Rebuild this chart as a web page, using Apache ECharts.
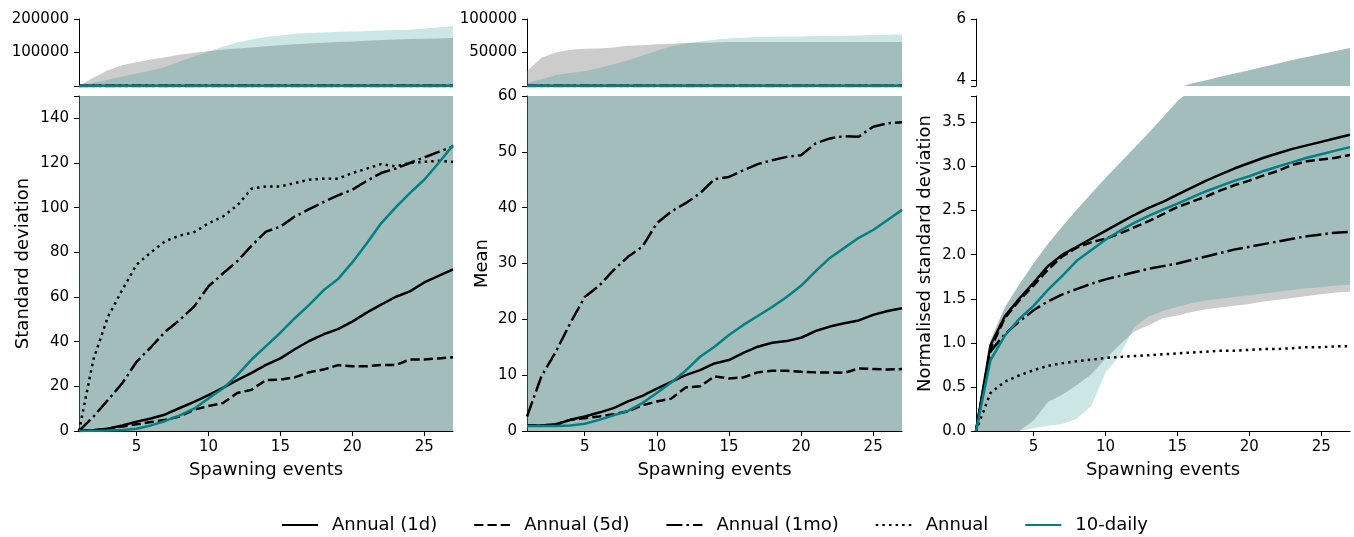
<!DOCTYPE html>
<html>
<head>
<meta charset="utf-8">
<title>Spawning events</title>
<script src="https://cdn.jsdelivr.net/npm/echarts@6/dist/echarts.min.js"></script>
<style>
    html, body { margin: 0; padding: 0; background: #fff; }
    #chart { width: 1354px; height: 537px; }
</style>
</head>
<body>
<div id="chart"></div>
<script>
// 横轴：产卵次数
var events = [1, 2, 3, 4, 5, 6, 7, 8, 9, 10, 11, 12, 13, 14, 15, 16, 17, 18, 19, 20, 21, 22, 23, 24, 25, 26, 27];
var xTicks = [5, 10, 15, 20, 25];
var names = ['Annual (1d)', 'Annual (5d)', 'Annual (1mo)', 'Annual', '10-daily'];

// 标准差
var sd1d = [0, 0.3, 1, 2.5, 4.2, 5.6, 7.4, 10.3, 13, 16.1, 19.3, 22.8, 26, 29.6, 32.5, 36.6, 40.3, 43.3, 45.6, 49, 53, 56.6, 60, 62.5, 66.5, 69.5, 72.4];
var sd5d = [0, 0.3, 1, 2, 3, 4, 5, 6.5, 9.5, 11.2, 12.5, 17, 18.5, 22.8, 23, 24, 26.3, 27.5, 29.5, 29, 29, 29.5, 29.5, 32, 32, 32.5, 33];
var sd1mo = [0, 6.4, 13.8, 21.3, 31, 37.5, 44.5, 49.7, 55.7, 64.8, 70.5, 76, 83, 89.3, 91.5, 96, 99.3, 102.5, 105.5, 108, 112, 115.5, 117.5, 120, 122.5, 125, 127.3];
var sdAnnual = [0, 32, 51, 63, 74.5, 80, 85, 87.5, 89, 93, 96, 101, 108.5, 109.5, 109.5, 111, 112.5, 113, 113, 115.5, 117.5, 119.5, 118.5, 120, 120.5, 121, 120.5];
var sd10d = [0, 0, 0.2, 0.5, 1, 2.5, 4.5, 7, 10, 14.6, 19, 25, 32, 38, 44, 50.5, 56.5, 63, 68, 75.5, 84, 93, 100, 106.5, 112.5, 120, 128];
var sdGreyHigh = [0, 25000, 47000, 62000, 71000, 79000, 86000, 93000, 99000, 104000, 109000, 112000, 115000, 119000, 122000, 125000, 127000, 129000, 131000, 133000, 135000, 137000, 139000, 140000, 141000, 142000, 143000];
var sdTealHigh = [0, 10000, 19000, 28000, 37000, 46000, 57000, 73000, 88000, 103000, 117000, 130000, 139000, 146000, 151000, 156000, 158000, 160000, 162000, 163000, 164000, 166000, 167000, 168000, 172000, 175000, 179000];

// 均值
var mean1d = [1, 1, 1.2, 2, 2.6, 3.3, 4.1, 5.3, 6.3, 7.6, 8.8, 10, 10.9, 12.1, 12.7, 14, 15.1, 15.8, 16.1, 16.7, 17.9, 18.7, 19.3, 19.8, 20.8, 21.5, 22];
var mean5d = [1, 1, 1.1, 2, 2.3, 2.6, 3, 3.5, 4.6, 5.3, 5.8, 7.8, 8, 9.8, 9.4, 9.6, 10.5, 10.8, 10.8, 10.6, 10.5, 10.5, 10.4, 11.2, 11.1, 11, 11.1];
var mean1mo = [2.6, 9.8, 14.2, 19.3, 24, 26, 28.8, 31.2, 33, 37.2, 39.3, 40.8, 42.6, 45.1, 45.5, 46.7, 47.8, 48.5, 49.1, 49.4, 51.5, 52.4, 52.8, 52.7, 54.5, 55.1, 55.3];
var mean10d = [0.9, 0.9, 0.9, 1, 1.3, 2, 2.8, 3.6, 5, 6.8, 8.7, 10.8, 13.3, 15.1, 17.2, 19, 20.6, 22.2, 24, 26, 28.6, 31, 32.8, 34.6, 36, 37.8, 39.6];
var meanGreyHigh = [22000, 42000, 50000, 54000, 55500, 56000, 57500, 60000, 61000, 62500, 63000, 64000, 64500, 65000, 65500, 65500, 65500, 65500, 65500, 65500, 65500, 65500, 65500, 65500, 65500, 65500, 65500];
var meanTealHigh = [5000, 10000, 16500, 19500, 22000, 27000, 32500, 38500, 45500, 52500, 59500, 63500, 66500, 69000, 70800, 72000, 73000, 73500, 74000, 74000, 74500, 74500, 75000, 75500, 76000, 76500, 77000];

// 归一化标准差
var nsd1d = [0, 0.97, 1.3, 1.5, 1.68, 1.87, 2.0, 2.09, 2.18, 2.27, 2.36, 2.45, 2.53, 2.6, 2.68, 2.76, 2.84, 2.91, 2.98, 3.04, 3.1, 3.15, 3.2, 3.24, 3.28, 3.32, 3.36];
var nsd5d = [0, 0.93, 1.28, 1.48, 1.65, 1.83, 1.98, 2.08, 2.14, 2.18, 2.24, 2.31, 2.38, 2.46, 2.54, 2.6, 2.66, 2.73, 2.79, 2.84, 2.9, 2.95, 3.02, 3.06, 3.08, 3.1, 3.13];
var nsd1mo = [0, 0.9, 1.1, 1.24, 1.37, 1.47, 1.55, 1.61, 1.67, 1.72, 1.76, 1.8, 1.84, 1.87, 1.9, 1.94, 1.98, 2.02, 2.06, 2.09, 2.12, 2.15, 2.18, 2.21, 2.23, 2.25, 2.26];
var nsdAnnual = [0, 0.43, 0.56, 0.63, 0.69, 0.74, 0.77, 0.79, 0.81, 0.83, 0.84, 0.85, 0.86, 0.87, 0.88, 0.89, 0.9, 0.91, 0.91, 0.92, 0.93, 0.93, 0.94, 0.95, 0.95, 0.96, 0.96];
var nsd10d = [0, 0.8, 1.08, 1.27, 1.42, 1.6, 1.76, 1.93, 2.05, 2.17, 2.27, 2.36, 2.44, 2.51, 2.58, 2.65, 2.72, 2.78, 2.84, 2.89, 2.95, 3.0, 3.05, 3.1, 3.14, 3.18, 3.22];
var nsdHigh = [0, 1.02, 1.4, 1.66, 1.9, 2.12, 2.32, 2.51, 2.69, 2.87, 3.04, 3.21, 3.38, 3.56, 3.74, 3.88, 3.99, 4.1, 4.21, 4.32, 4.43, 4.54, 4.65, 4.75, 4.85, 4.95, 5.05];
var nsdGreyLow = [0, 0, 0, 0, 0.12, 0.33, 0.41, 0.52, 0.64, 0.82, 0.98, 1.13, 1.2, 1.28, 1.31, 1.35, 1.38, 1.4, 1.42, 1.44, 1.47, 1.49, 1.51, 1.53, 1.55, 1.57, 1.58];
var nsdTealLow = [0, 0, 0, 0, 0.03, 0.06, 0.08, 0.14, 0.28, 0.66, 0.86, 1.18, 1.3, 1.36, 1.41, 1.45, 1.48, 1.5, 1.52, 1.54, 1.56, 1.58, 1.6, 1.62, 1.63, 1.65, 1.66];

// 刻度
var sdTopTicks = [0, 100000, 200000];
var sdTicks = [0, 20, 40, 60, 80, 100, 120, 140];
var meanTopTicks = [0, 50000, 100000];
var meanTicks = [0, 10, 20, 30, 40, 50, 60];
var nsdTopTicks = [4, 6];
var nsdTicks = [0, 0.5, 1.0, 1.5, 2.0, 2.5, 3.0, 3.5];

var FONT = 'DejaVu Sans';
var GREY = 'rgba(128,128,128,0.4)';
var TEAL = 'rgba(0,128,128,0.2)';

// 线型
var lineStyles = {
    'Annual (1d)': { color: '#000', type: 'solid' },
    'Annual (5d)': { color: '#000', type: [9.25, 4] },
    'Annual (1mo)': { color: '#000', type: [16, 4, 2.5, 4] },
    'Annual': { color: '#000', type: [2.5, 4.1] },
    '10-daily': { color: '#008080', type: 'solid' }
};

window.onload = function () {
    initChart();
}

function pairs(vals) {
    return events.map(function (x, i) { return [x, vals[i]]; });
}

function lineSeries(name, vals, idx) {
    var st = lineStyles[name];
    return {
        type: 'line', name: name, xAxisIndex: idx, yAxisIndex: idx,
        data: pairs(vals), symbol: 'none', clip: true, z: 3,
        lineStyle: { color: st.color, width: 2.5, type: st.type },
        itemStyle: { color: st.color },
        emphasis: { disabled: true }
    };
}

// 阴影区间：上下界围成一个多边形，low为空时下界取0
function bandSeries(low, high, color, idx) {
    return {
        type: 'custom', xAxisIndex: idx, yAxisIndex: idx, clip: true, silent: true, z: 1,
        data: pairs(high),
        encode: { x: 0, y: 1 },
        renderItem: function (params, api) {
            if (params.dataIndex !== 0) return null;
            var pts = [];
            for (var i = 0; i < events.length; i++) {
                pts.push(api.coord([events[i], high[i]]));
            }
            for (var j = events.length - 1; j >= 0; j--) {
                pts.push(api.coord([events[j], low ? low[j] : 0]));
            }
            return { type: 'polygon', shape: { points: pts }, style: { fill: color } };
        }
    };
}

function plain(v) {
    return String(v);
}

function yAxis(idx, min, max, labels, ticks, fmt, name, gap, shift) {
    var ax = {
        type: 'value', gridIndex: idx, min: min, max: max,
        splitLine: { show: false },
        axisLine: { show: true, lineStyle: { color: '#000', width: 1 } },
        axisTick: { show: true, length: 5, customValues: ticks, lineStyle: { color: '#000', width: 1 } },
        axisLabel: { customValues: labels, color: '#000', fontFamily: FONT, fontSize: 15, margin: 10, formatter: fmt || plain }
    };
    if (name) {
        ax.name = name;
        ax.nameLocation = 'middle';
        ax.nameGap = gap;
        ax.nameTextStyle = { color: '#000', fontFamily: FONT, fontSize: 18, padding: [0, 0, 0, shift || 0] };
    }
    return ax;
}

function xAxis(idx, show) {
    return {
        type: 'value', gridIndex: idx, min: 1, max: 27, show: show,
        splitLine: { show: false },
        axisLine: { show: true, onZero: false, lineStyle: { color: '#000', width: 1 } },
        axisTick: { show: true, length: 5, customValues: xTicks, lineStyle: { color: '#000', width: 1 } },
        axisLabel: { customValues: xTicks, color: '#000', fontFamily: FONT, fontSize: 15, margin: 9 },
        name: 'Spawning events', nameLocation: 'middle', nameGap: 30,
        nameTextStyle: { color: '#000', fontFamily: FONT, fontSize: 18 }
    };
}

function initChart() {
    var chart = echarts.init(document.getElementById('chart'), null, { renderer: 'canvas' });
    var lefts = [79, 527, 976];
    var widths = [374, 375, 374];
    var grids = [];
    var xAxes = [];
    for (var p = 0; p < 3; p++) {
        grids.push({ left: lefts[p], top: 19, width: widths[p], height: 67, containLabel: false });
        grids.push({ left: lefts[p], top: 96, width: widths[p], height: 335, containLabel: false });
        xAxes.push(xAxis(p * 2, false));
        xAxes.push(xAxis(p * 2 + 1, true));
    }
    var one = function (v) { return v.toFixed(1); };
    var yAxes = [
        yAxis(0, 0, 200000, [100000, 200000], sdTopTicks),
        yAxis(1, 0, 150, sdTicks, sdTicks.concat([150]), null, 'Standard deviation', 47),
        yAxis(2, 0, 100000, [50000, 100000], meanTopTicks),
        yAxis(3, 0, 60, meanTicks, meanTicks, null, 'Mean', 36),
        yAxis(4, 3.8, 6, nsdTopTicks, nsdTopTicks.concat([3.8])),
        yAxis(5, 0, 3.8, nsdTicks, nsdTicks.concat([3.8]), one, 'Normalised standard deviation', 42, 20)
    ];

    var series = [];
    var panels = [
        { lines: [sd1d, sd5d, sd1mo, sdAnnual, sd10d], grey: [null, sdGreyHigh], teal: [null, sdTealHigh] },
        { lines: [mean1d, mean5d, mean1mo, null, mean10d], grey: [null, meanGreyHigh], teal: [null, meanTealHigh] },
        { lines: [nsd1d, nsd5d, nsd1mo, nsdAnnual, nsd10d], grey: [nsdGreyLow, nsdHigh], teal: [nsdTealLow, nsdHigh] }
    ];
    panels.forEach(function (pn, p) {
        for (var k = 0; k < 2; k++) {
            var idx = p * 2 + k;
            series.push(bandSeries(pn.grey[0], pn.grey[1], GREY, idx));
            series.push(bandSeries(pn.teal[0], pn.teal[1], TEAL, idx));
            for (var i = 0; i < names.length; i++) {
                if (pn.lines[i]) series.push(lineSeries(names[i], pn.lines[i], idx));
            }
        }
    });

    chart.setOption({
        animation: false,
        grid: grids,
        xAxis: xAxes,
        yAxis: yAxes,
        legend: {
            data: names, left: 276, top: 511, itemWidth: 36, itemHeight: 14, itemGap: 36,
            selectedMode: false,
            itemStyle: { color: 'rgba(0,0,0,0)', borderWidth: 0, opacity: 0 },
            textStyle: { color: '#000', fontFamily: FONT, fontSize: 18, padding: [0, 0, 0, 9] }
        },
        series: series
    });
}
</script>
</body>
</html>
